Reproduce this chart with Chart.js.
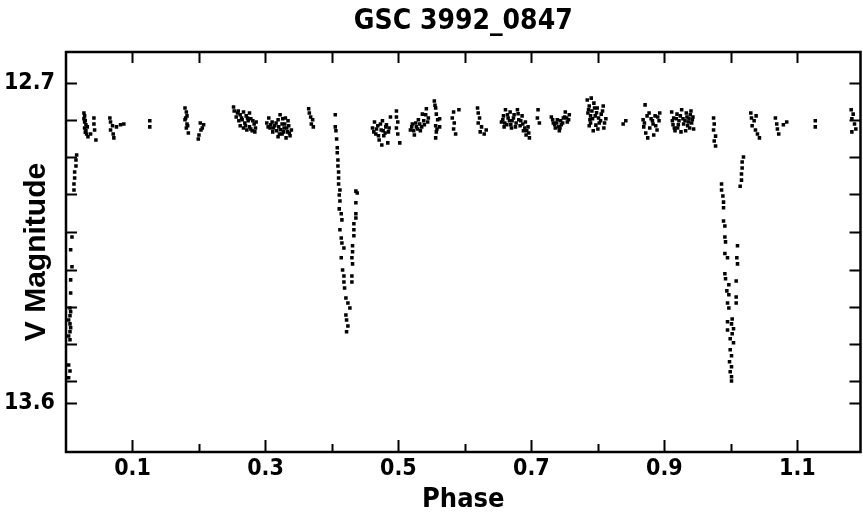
<!DOCTYPE html>
<html>
<head>
<meta charset="utf-8">
<script src="https://cdn.jsdelivr.net/npm/chart.js@4.4.1/dist/chart.umd.min.js"></script>
<style>
html,body{margin:0;padding:0;background:#fff;}
#wrap{width:863px;height:519px;}
</style>
</head>
<body>
<div id="wrap"><canvas id="c" width="863" height="519"></canvas></div>
<script>
// ---- tick values / labels ----
const xTickValues = [0.1,0.2,0.3,0.4,0.5,0.6,0.7,0.8,0.9,1.0,1.1];
const xTickLabels = ['0.1','','0.3','','0.5','','0.7','','0.9','','1.1'];
const yTickValues = [12.7,12.803,12.908,13.012,13.119,13.226,13.330,13.434,13.539,13.6];
const yTickLabels = ['12.7','','','','','','','','','13.6'];

// ---- data: primary eclipse egress near phase 0 ----
const egressPhase = [0.004,0.006,0.004,0.006,0.004,0.006,0.007,0.006,0.004,0.006,0.007,0.006,0.007,0.007,0.009,0.007,0.009,0.012,0.012,0.013,0.013,0.015,0.015,0.016];
const egressMag   = [13.530,13.511,13.494,13.423,13.412,13.400,13.389,13.378,13.367,13.355,13.344,13.333,13.291,13.254,13.217,13.169,13.133,13.001,12.984,12.967,12.950,12.933,12.916,12.902];

// ---- out-of-eclipse, phase 0.02 - 0.40 ----
const max1Phase = [0.027,0.028,0.027,0.028,0.030,0.028,0.030,0.031,0.033,0.042,0.042,0.043,0.045,0.037,0.029,0.029,0.032,
 0.066,0.067,0.070,0.067,0.071,0.072,0.076,0.082,0.087,
 0.126,0.126,
 0.179,0.181,0.182,0.179,0.182,0.181,0.184,0.202,0.207,0.203,0.200,0.199,0.180,0.183,0.205,
 0.252,0.253,0.258,0.262,0.267,0.271,0.276,0.265,0.269,0.274,0.278,0.283,0.267,0.272,0.278,0.284,0.262,0.286,
 0.256,0.260,0.264,0.270,0.276,0.280,0.281,0.285,0.259,0.273,
 0.302,0.305,0.307,0.310,0.311,0.314,0.317,0.319,0.322,0.325,0.325,0.328,0.330,0.331,0.333,0.335,0.337,0.334,0.339,0.319,
 0.304,0.308,0.312,0.316,0.320,0.323,0.327,0.329,0.332,0.336,0.326,0.321,
 0.365,0.366,0.368,0.371,0.369,0.372];
const max1Mag = [12.784,12.792,12.800,12.809,12.817,12.826,12.834,12.843,12.851,12.798,12.815,12.832,12.860,12.843,12.805,12.838,12.823,
 12.798,12.809,12.820,12.832,12.843,12.854,12.823,12.817,12.815,
 12.806,12.823,
 12.770,12.781,12.792,12.803,12.815,12.826,12.840,12.812,12.817,12.832,12.846,12.857,12.798,12.820,12.826,
 12.767,12.778,12.784,12.789,12.781,12.792,12.784,12.803,12.812,12.806,12.800,12.815,12.826,12.832,12.829,12.837,12.820,12.809,
 12.795,12.806,12.798,12.820,12.823,12.834,12.806,12.826,12.778,12.798,
 12.812,12.798,12.826,12.809,12.837,12.820,12.834,12.803,12.789,12.815,12.843,12.826,12.798,12.854,12.837,12.820,12.848,12.806,12.832,12.851,
 12.823,12.817,12.826,12.812,12.823,12.831,12.837,12.815,12.826,12.840,12.800,12.843,
 12.772,12.784,12.795,12.803,12.815,12.823];

// ---- secondary eclipse ----
const secPhase = [0.405,0.405,0.406,0.407,0.408,0.408,0.409,0.409,0.410,0.410,0.410,0.412,0.411,0.412,0.411,0.414,0.415,0.412,0.414,0.415,0.418,0.414,0.416,0.418,0.418,0.419,0.421,0.424,0.427,0.421,0.422,0.424,0.422,
 0.436,0.438,0.436,0.436,0.436,0.433,0.433,0.433,0.431,0.431,0.430,0.431,0.430,0.430];
const secMag = [12.789,12.823,12.834,12.857,12.882,12.896,12.916,12.933,12.950,12.967,12.984,13.001,13.015,13.032,13.054,13.068,13.085,13.113,13.136,13.150,13.164,13.192,13.226,13.243,13.260,13.277,13.305,13.319,13.333,13.353,13.367,13.384,13.400,
 13.004,13.009,13.037,13.068,13.080,13.096,13.113,13.130,13.158,13.175,13.192,13.209,13.243,13.260];

// ---- out-of-eclipse, phase 0.45 - 0.95 ----
const max2Phase = [0.461,0.464,0.466,0.469,0.471,0.474,0.476,0.478,0.481,0.484,0.485,0.488,0.497,0.497,0.499,0.497,0.499,0.502,0.475,
 0.463,0.467,0.470,0.473,0.477,0.480,0.482,0.486,
 0.518,0.521,0.524,0.527,0.530,0.533,0.536,0.539,0.542,0.545,0.554,0.556,0.557,0.559,0.556,0.557,0.556,0.562,0.562,
 0.520,0.523,0.526,0.529,0.532,0.535,0.538,0.541,0.544,0.555,0.558,
 0.583,0.581,0.584,0.583,0.586,0.591,
 0.619,0.620,0.622,0.620,0.625,0.623,0.629,0.632,
 0.655,0.658,0.661,0.663,0.665,0.668,0.671,0.674,0.676,0.679,0.681,0.683,0.686,0.688,0.691,0.692,0.695,0.697,0.659,0.670,
 0.657,0.660,0.664,0.667,0.669,0.673,0.677,0.680,0.684,0.687,0.690,0.693,0.696,
 0.710,0.709,0.712,
 0.730,0.733,0.736,0.739,0.742,0.745,0.748,0.751,0.754,0.757,
 0.732,0.735,0.738,0.741,0.744,0.747,0.750,0.753,0.756,0.743,
 0.784,0.787,0.790,0.785,0.788,0.791,0.794,0.796,0.799,0.802,0.805,0.808,0.809,0.812,0.787,0.793,0.800,
 0.786,0.789,0.792,0.795,0.798,0.801,0.804,0.807,0.810,0.789,0.797,
 0.838,0.842,
 0.868,0.869,0.872,0.875,0.871,0.877,0.880,0.883,0.886,0.889,0.892,0.884,0.893,
 0.870,0.874,0.878,0.882,0.887,0.890,
 0.911,0.914,0.913,0.916,0.919,0.922,0.920,0.926,0.929,0.933,0.937,0.935,0.940,0.943,0.941,0.944,0.932,0.925,
 0.912,0.915,0.918,0.921,0.924,0.928,0.931,0.934,0.936,0.939,0.942,0.938];
const max2Mag = [12.826,12.809,12.843,12.820,12.860,12.832,12.806,12.848,12.823,12.868,12.837,12.795,12.778,12.795,12.809,12.826,12.843,12.868,12.874,
 12.837,12.829,12.848,12.815,12.834,12.840,12.817,12.826,
 12.832,12.815,12.846,12.823,12.803,12.834,12.787,12.817,12.772,12.798,12.750,12.770,12.787,12.803,12.820,12.837,12.854,12.800,12.823,
 12.823,12.834,12.812,12.829,12.815,12.823,12.806,12.789,12.809,12.762,12.829,
 12.781,12.798,12.812,12.829,12.843,12.775,
 12.770,12.784,12.798,12.812,12.823,12.837,12.843,12.832,
 12.809,12.792,12.775,12.817,12.798,12.781,12.806,12.789,12.823,12.775,12.803,12.820,12.792,12.834,12.809,12.846,12.823,12.854,12.823,12.826,
 12.803,12.812,12.789,12.806,12.817,12.798,12.812,12.786,12.806,12.815,12.826,12.834,12.840,
 12.775,12.798,12.812,
 12.795,12.812,12.826,12.803,12.834,12.817,12.798,12.781,12.809,12.789,
 12.803,12.817,12.812,12.823,12.806,12.812,12.795,12.798,12.803,12.826,
 12.747,12.764,12.742,12.784,12.803,12.778,12.756,12.792,12.770,12.812,12.787,12.764,12.826,12.800,12.820,12.834,12.829,
 12.775,12.792,12.800,12.770,12.783,12.798,12.806,12.778,12.812,12.812,12.818,
 12.815,12.806,
 12.803,12.823,12.840,12.854,12.761,12.784,12.800,12.815,12.792,12.832,12.806,12.846,12.784,
 12.812,12.792,12.826,12.806,12.820,12.795,
 12.781,12.798,12.817,12.834,12.787,12.806,12.826,12.775,12.815,12.784,12.800,12.820,12.778,12.795,12.812,12.829,12.834,12.837,
 12.806,12.826,12.800,12.817,12.792,12.800,12.806,12.795,12.809,12.789,12.803,12.826];

// ---- primary eclipse around phase 1.0 ----
const priPhase = [0.974,0.975,0.974,0.977,0.975,0.977,0.986,0.986,0.988,0.989,0.989,0.989,0.991,0.991,0.992,1.010,0.991,0.995,1.009,1.010,0.991,0.992,0.997,1.008,0.994,0.997,1.008,1.008,0.995,0.997,
 1.002,1.001,1.004,1.002,0.999,1.004,0.995,0.995,0.999,1.001,0.998,1.001,0.999,1.001,1.001,
 1.014,1.016,1.016,1.017,1.017,1.019];
const priMag = [12.798,12.815,12.832,12.849,12.863,12.877,12.984,13.001,13.018,13.035,13.051,13.088,13.102,13.133,13.147,13.158,13.180,13.192,13.192,13.209,13.237,13.251,13.268,13.257,13.285,13.296,13.302,13.319,13.319,13.333,
 13.364,13.378,13.392,13.406,13.420,13.431,13.372,13.395,13.451,13.468,13.485,13.499,13.513,13.527,13.539,
 12.990,12.973,12.956,12.939,12.922,12.908];

// ---- out-of-eclipse, phase 1.02 - 1.19 ----
const max3Phase = [1.030,1.031,1.035,1.032,1.037,1.040,1.043,1.038,1.067,1.069,1.070,1.072,1.079,1.084,1.127,1.127,1.181,1.184,1.182,1.186,1.188,1.182];
const max3Mag = [12.784,12.798,12.806,12.820,12.832,12.843,12.854,12.792,12.798,12.815,12.829,12.843,12.817,12.809,12.806,12.823,12.775,12.787,12.800,12.815,12.829,12.837];

function pts(px, my){ return px.map((p,i)=>({x:p, y:my[i]})); }
const series = [[egressPhase,egressMag],[max1Phase,max1Mag],[secPhase,secMag],[max2Phase,max2Mag],[priPhase,priMag],[max3Phase,max3Mag]];

const TXT = "'Liberation Sans Narrow','DejaVu Sans Condensed','Arial Narrow',sans-serif";
const TXTW = "'Liberation Sans','Arial',sans-serif";

const framePlugin = {
  id: 'frame',
  afterDatasetsDraw(chart){
    const {ctx, chartArea:a, scales:{x, y}} = chart;
    ctx.save();
    ctx.strokeStyle = '#000';
    ctx.lineWidth = 2.5;
    ctx.strokeRect(a.left, a.top, a.right - a.left, a.bottom - a.top);
    ctx.lineWidth = 2;
    ctx.beginPath();
    x.ticks.forEach((t, i) => {
      const px = Math.round(x.getPixelForValue(t.value)) + 0.5;
      const len = xTickLabels[i] ? 12 : 8;
      ctx.moveTo(px, a.bottom); ctx.lineTo(px, a.bottom - len);
      ctx.moveTo(px, a.top); ctx.lineTo(px, a.top + 11);
    });
    y.ticks.forEach((t, i) => {
      const py = Math.round(y.getPixelForValue(t.value)) + 0.5;
      ctx.moveTo(a.left, py); ctx.lineTo(a.left + 11, py);
      ctx.moveTo(a.right, py); ctx.lineTo(a.right - 11, py);
    });
    ctx.stroke();
    ctx.restore();
  }
};

new Chart(document.getElementById('c'), {
  type: 'scatter',
  data: {
    datasets: series.map(s => ({
      data: pts(s[0], s[1]),
      pointStyle: 'rect',
      pointRadius: 2.5,
      pointHoverRadius: 2.5,
      pointBorderWidth: 0,
      backgroundColor: '#000',
      borderColor: '#000'
    }))
  },
  options: {
    responsive: false,
    devicePixelRatio: 1,
    animation: false,
    layout: { padding: { left: 0, right: 0, top: 0, bottom: 0 } },
    plugins: {
      legend: { display: false },
      tooltip: { enabled: false },
      title: {
        display: true,
        fullSize: false,
        text: 'GSC 3992_0847',
        color: '#000',
        font: { family: TXT, size: 28, weight: 'bold', lineHeight: 1.2 },
        padding: { top: 5, bottom: 13.4 }
      }
    },
    scales: {
      x: {
        type: 'linear',
        min: 0.0,
        max: 1.195,
        afterFit(s){ s.height = 67; },
        afterBuildTicks(s){ s.ticks = xTickValues.map(v => ({value: v})); },
        grid: { display: false, drawTicks: false },
        border: { display: false },
        ticks: {
          autoSkip: false, maxRotation: 0, padding: 3, color: '#000',
          font: { family: TXT, size: 23, weight: 'bold' },
          callback: (v, i) => xTickLabels[i]
        },
        title: {
          display: true, text: 'Phase', color: '#000',
          font: { family: TXT, size: 27, weight: 'bold', lineHeight: 1.2 },
          padding: { top: 0, bottom: 3 }
        }
      },
      y: {
        type: 'linear',
        reverse: true,
        min: 12.612,
        max: 13.739,
        afterFit(s){ s.width = 66; },
        afterBuildTicks(s){ s.ticks = yTickValues.map(v => ({value: v})); },
        grid: { display: false, drawTicks: false },
        border: { display: false },
        ticks: {
          autoSkip: false, padding: 11, color: '#000',
          font: { family: TXT, size: 23, weight: 'bold' },
          callback: (v, i) => yTickLabels[i]
        },
        title: {
          display: true, text: 'V Magnitude', color: '#000',
          font: { family: TXTW, size: 30, weight: 'bold', lineHeight: 1.2 },
          padding: { top: 19, bottom: 0 }
        }
      }
    }
  },
  plugins: [framePlugin]
});
</script>
</body>
</html>
